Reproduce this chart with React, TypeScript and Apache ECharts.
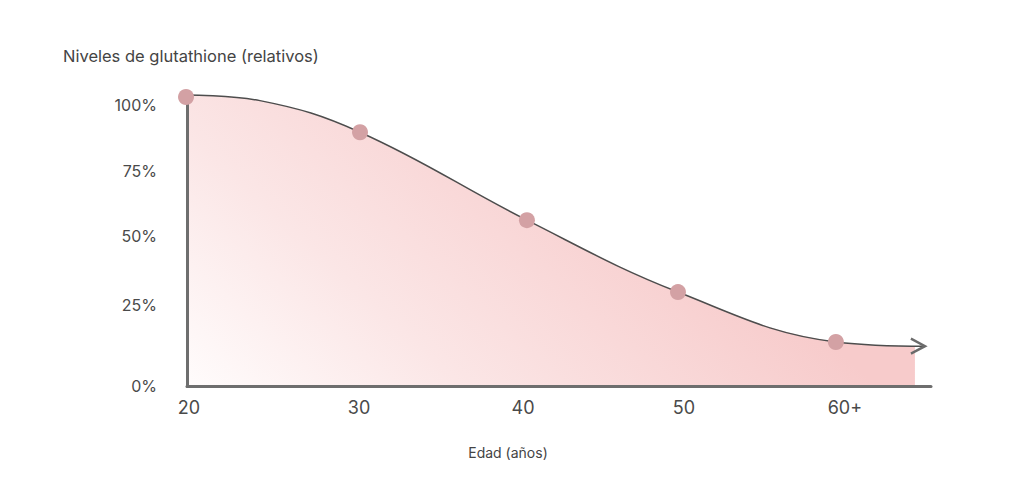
import React, { useEffect, useRef } from "react";
import * as echarts from "echarts";

// X axis tick positions (age) and their labels
const ageTicks = [20.12, 30.49, 40.49, 50.3, 60.12];
const ageLabels = ["20", "30", "40", "50", "60+"];

// Y axis tick positions (relative level) and their labels
const levelTicks = [0.3, 28.8, 53.4, 76.4, 100];
const levelLabels = ["0%", "25%", "50%", "75%", "100%"];

// Highlighted points
const dotAges = [19.94, 30.55, 40.73, 49.94, 59.57];
const dotLevels = [102.7, 90.2, 59.0, 33.5, 15.8];

// Curve
const curveAges = [20, 24.45, 30.55, 40.73, 49.94, 59.57, 65.0];
const curveLevels = [103.4, 101.4, 90.2, 59.0, 33.5, 15.8, 14.3];

// Shaded area end (fill stops before the arrow)
const areaEndAge = 64.39;
const areaEndLevel = 14.3;

const FONT = "Inter, 'Noto Sans', sans-serif";

function nearestLabel(v: number, ticks: number[], labels: string[]) {
  let best = 0;
  for (let i = 1; i < ticks.length; i++) {
    if (Math.abs(ticks[i] - v) < Math.abs(ticks[best] - v)) best = i;
  }
  return labels[best];
}

export default function App() {
  const ref = useRef<HTMLDivElement>(null);

  useEffect(() => {
    if (!ref.current) return;
    const chart = echarts.init(ref.current, undefined, { renderer: "svg" });

    const lineData: any[] = curveAges.map((a, i) => {
      const last = i === curveAges.length - 1;
      return last
        ? {
            value: [a, curveLevels[i]],
            symbol: "path://M0,0 L12,7 L0,14",
            symbolSize: [14, 15],
            symbolOffset: [-7, 0],
            itemStyle: { color: "none", borderColor: "#6b6b6b", borderWidth: 2.5 },
          }
        : { value: [a, curveLevels[i]], symbol: "none" };
    });

    const areaData = curveAges
      .slice(0, curveAges.length - 1)
      .map((a, i) => [a, curveLevels[i]]);
    areaData.push([areaEndAge, areaEndLevel]);

    chart.setOption({
      animation: false,
      backgroundColor: "#ffffff",
      title: [
        {
          text: "Niveles de glutathione (relativos)",
          left: 63,
          top: 47,
          padding: 0,
          textStyle: { fontFamily: FONT, fontSize: 16.5, fontWeight: "normal", color: "#444444" },
        },
      ],
      graphic: [
        {
          type: "text",
          x: 508,
          y: 452,
          style: {
            text: "Edad (años)",
            fontFamily: FONT,
            fontSize: 14,
            fill: "#444444",
            textAlign: "center",
            textVerticalAlign: "middle",
          },
        },
      ],
      grid: { left: 187, right: 93, top: 95, bottom: 100.5, containLabel: false },
      xAxis: {
        type: "value",
        min: 20,
        max: 65.37,
        z: 3.5,
        axisLine: { show: true, lineStyle: { color: "#6e6e6e", width: 3 } },
        axisTick: { show: false },
        splitLine: { show: false },
        axisLabel: {
          customValues: ageTicks,
          formatter: (v: number) => nearestLabel(v, ageTicks, ageLabels),
          fontFamily: FONT,
          fontSize: 18,
          color: "#4a4a4a",
          margin: 12,
        },
      },
      yAxis: {
        type: "value",
        min: 0,
        max: 103.4,
        z: 3.5,
        axisLine: { show: true, lineStyle: { color: "#6e6e6e", width: 3 } },
        axisTick: { show: false },
        splitLine: { show: false },
        axisLabel: {
          customValues: levelTicks,
          formatter: (v: number) => nearestLabel(v, levelTicks, levelLabels),
          fontFamily: FONT,
          fontSize: 16,
          color: "#4a4a4a",
          margin: 30,
        },
      },
      series: [
        {
          type: "line",
          data: areaData,
          smooth: 0.4,
          symbol: "none",
          clip: false,
          lineStyle: { width: 0, opacity: 0 },
          areaStyle: {
            opacity: 1,
            color: new echarts.graphic.LinearGradient(
              187,
              386,
              500,
              42,
              [
                { offset: 0, color: "#fffcfc" },
                { offset: 0.4, color: "#fbe6e6" },
                { offset: 1, color: "#f7cbcb" },
              ],
              true
            ),
          },
          z: 1,
        },
        {
          type: "line",
          data: lineData,
          smooth: 0.4,
          clip: false,
          showSymbol: true,
          showAllSymbol: true,
          lineStyle: { color: "#4d4d4d", width: 1.5 },
          z: 3,
        },
        {
          type: "scatter",
          data: dotAges.map((a, i) => [a, dotLevels[i]]),
          symbolSize: 16,
          clip: false,
          itemStyle: { color: "#d3a1a4", opacity: 1 },
          z: 4,
        },
      ],
    });

    return () => chart.dispose();
  }, []);

  return <div ref={ref} style={{ width: 1024, height: 487, margin: -8 }} />;
}
